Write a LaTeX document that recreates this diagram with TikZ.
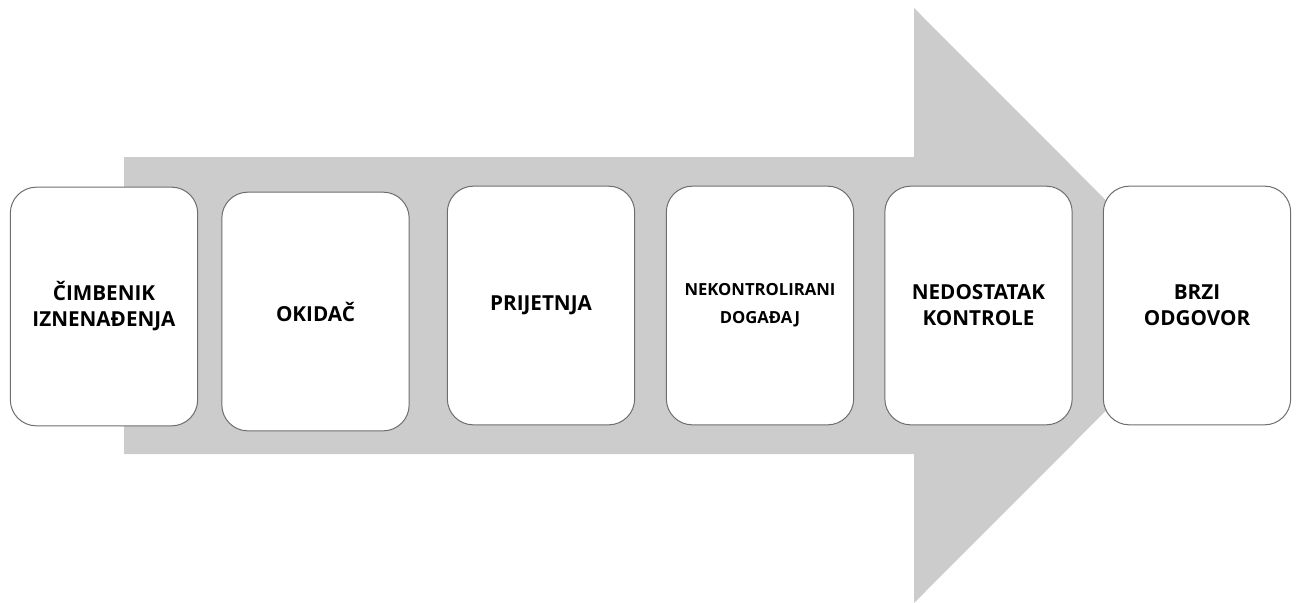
\documentclass[tikz,border=0pt]{standalone}
\usepackage{fontspec}
\setmainfont{Open Sans}
\definecolor{arrowgray}{RGB}{204,204,204}
\definecolor{edgegray}{RGB}{110,110,110}
\tikzset{every picture/.style={line width=0.75pt}}
\tikzset{
  stage/.style={draw=edgegray, fill=white, rounded corners=19.5pt, minimum width=140.5pt, minimum height=179pt, inner sep=0.75pt, align=center, font=\fontsize{15.5}{19.5}\selectfont\bfseries},
  stagesmall/.style={stage, font=\fontsize{12.5}{21}\selectfont\bfseries}
}
\begin{document}
\begin{tikzpicture}[x=0.75pt,y=0.75pt,yscale=-1,xscale=1]
\useasboundingbox (0,0) rectangle (1299,603);

% Big Arrow
\fill [arrowgray] (124,157) -- (914,157) -- (914,8) -- (1211,305.5) -- (914,603) -- (914,454) -- (124,454) -- cycle ;

% Text Node
\node [stage] (cimbenik) at (104,306.5) {ČIMBENIK\\IZNENAĐENJA};
% Text Node
\node [stage] (okidac) at (315.5,311.5) {OKIDAČ};
% Text Node
\node [stage] (prijetnja) at (541,305.5) {PRIJETNJA};
% Text Node
\node [stagesmall] (dogadaj) at (760,305.5) {NEKONTROLIRANI\\DOGAĐAJ};
% Text Node
\node [stage] (kontrola) at (978.5,305.5) {NEDOSTATAK\\KONTROLE};
% Text Node
\node [stage] (odgovor) at (1197,305.5) {BRZI\\ODGOVOR};

\end{tikzpicture}
\end{document}
